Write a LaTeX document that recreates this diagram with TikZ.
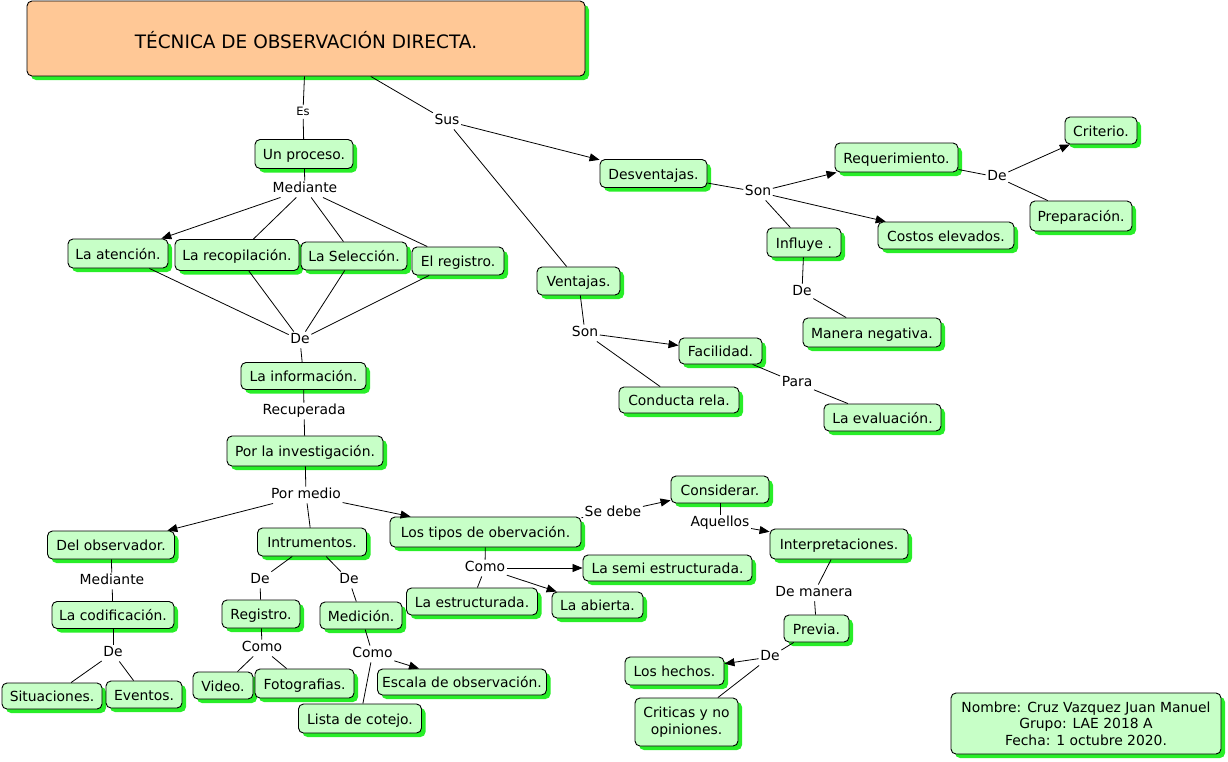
\documentclass[tikz,border=0pt]{standalone}
\usepackage{fontspec}
\setmainfont{DejaVu Sans}
\usetikzlibrary{arrows.meta,shadows}
\definecolor{boxfill}{RGB}{199,255,199}
\definecolor{shadowgreen}{RGB}{40,238,40}
\definecolor{titlefill}{RGB}{255,200,150}
\begin{document}
\begin{tikzpicture}[x=1pt,y=-1pt,
  base/.style={draw=black, line width=0.9pt, rounded corners=5pt, fill=boxfill,
    drop shadow={shadow xshift=4pt, shadow yshift=-4pt, fill=shadowgreen, opacity=1},
    inner sep=0pt, font=\fontsize{13.9}{16.5}\selectfont, align=center},
  box/.style={base, text height=12.5pt, text depth=1.5pt},
  sz/.style n args={2}{minimum width=#1pt, minimum height=#2pt},
  lab/.style={inner sep=1.5pt, font=\fontsize{13.9}{16.5}\selectfont, text height=10.5pt, text depth=3pt},
  conn/.style={draw=black, line width=0.8pt},
  arr/.style={conn, -{Triangle[length=10pt,width=8pt]}},
]
\useasboundingbox (0,0) rectangle (1228,761);

% ---------- boxes ----------
\node[box, fill=titlefill, sz={558}{75}, font=\fontsize{18.5}{20}\selectfont, text height=20pt, text depth=1pt] (title) at (306,38.5) {TÉCNICA DE OBSERVACIÓN DIRECTA.};
\node[box, sz={98}{29}] (proceso) at (304,154) {Un proceso.};
\node[box, sz={100}{29}] (aten) at (118,253.5) {La atención.};
\node[box, sz={124}{31}] (recop) at (237,255) {La recopilación.};
\node[box, sz={106}{28}] (selec) at (354,256) {La Selección.};
\node[box, sz={92}{28}] (elreg) at (458,261) {El registro.};
\node[box, sz={125}{27}] (info) at (303.5,376) {La información.};
\node[box, sz={156}{30}] (invest) at (305,451) {Por la investigación.};
\node[box, sz={127}{28}] (delobs) at (111,545) {Del observador.};
\node[box, sz={109}{28}] (instr) at (312,542) {Intrumentos.};
\node[box, sz={191}{30}] (tipos) at (485.5,532) {Los tipos de obervación.};
\node[box, sz={122}{27}] (codif) at (113,615) {La codificación.};
\node[box, sz={100}{26}] (situ) at (52,696) {Situaciones.};
\node[box, sz={76}{27}] (event) at (144,694.5) {Eventos.};
\node[box, sz={78}{28}] (regis) at (261,614) {Registro.};
\node[box, sz={82}{27}] (medic) at (361,615.5) {Medición.};
\node[box, sz={60}{27}] (video) at (223,685.5) {Video.};
\node[box, sz={99}{29}] (foto) at (304.5,683.5) {Fotografias.};
\node[box, sz={169}{26}] (escala) at (462,682) {Escala de observación.};
\node[box, sz={123}{29}] (lista) at (360,718.5) {Lista de cotejo.};
\node[box, sz={131}{27}] (estruct) at (472,601.5) {La estructurada.};
\node[box, sz={91}{26}] (abierta) at (597.5,605) {La abierta.};
\node[box, sz={169}{26}] (semi) at (667.5,568) {La semi estructurada.};
\node[box, sz={98}{27}] (consid) at (720,489.5) {Considerar.};
\node[box, sz={138}{30}] (interp) at (839,544) {Interpretaciones.};
\node[box, sz={65}{27}] (previa) at (816.5,628.5) {Previa.};
\node[box, sz={99}{28}] (hechos) at (674.5,671) {Los hechos.};
\node[base, sz={103}{48}] (criticas) at (686.5,722) {Criticas y no\\ opiniones.};
\node[base, sz={270}{61}] (datos) at (1086,723.5) {Nombre: Cruz Vazquez Juan Manuel\\Grupo: LAE 2018 A\\Fecha: 1 octubre 2020.};
\node[box, sz={107}{28}] (desv) at (653.5,173.5) {Desventajas.};
\node[box, sz={123}{29}] (requer) at (896.5,157.5) {Requerimiento.};
\node[box, sz={72}{27}] (criterio) at (1101,130.5) {Criterio.};
\node[box, sz={102}{30}] (prep) at (1081,216) {Preparación.};
\node[box, sz={136}{27}] (costos) at (946,235.5) {Costos elevados.};
\node[box, sz={74}{29}] (influye) at (804,242.5) {Influye .};
\node[box, sz={138}{29}] (manera) at (872,332.5) {Manera negativa.};
\node[box, sz={83}{28}] (vent) at (578.5,281) {Ventajas.};
\node[box, sz={83}{26}] (facil) at (720.5,351) {Facilidad.};
\node[box, sz={120}{26}] (conducta) at (679,400) {Conducta rela.};
\node[box, sz={117}{27}] (evalu) at (882.5,417.5) {La evaluación.};

% ---------- linking phrases ----------
\node[lab, font=\fontsize{11.5}{13}\selectfont, text height=8.5pt, text depth=2pt] (es) at (303,112) {Es};
\node[lab] (sus) at (447,121) {Sus};
\node[lab] (med1) at (305,189) {Mediante};
\node[lab] (de1) at (300,340) {De};
\node[lab] (recup) at (304,411) {Recuperada};
\node[lab] (pormedio) at (306,495) {Por medio};
\node[lab] (med2) at (112,581) {Mediante};
\node[lab] (de2) at (113,653) {De};
\node[lab] (deA) at (260,580) {De};
\node[lab] (deB) at (349,580) {De};
\node[lab] (como1) at (262,648) {Como};
\node[lab] (como2) at (372.5,654) {Como};
\node[lab] (como3) at (485,568) {Como};
\node[lab] (sedebe) at (613,513) {Se debe};
\node[lab] (aquellos) at (720,523) {Aquellos};
\node[lab] (demanera) at (814,593) {De manera};
\node[lab] (de3) at (770,657) {De};
\node[lab] (son1) at (758,192) {Son};
\node[lab] (de4) at (997,177) {De};
\node[lab] (de5) at (802,292) {De};
\node[lab] (son2) at (585,333) {Son};
\node[lab] (para) at (797,383) {Para};

% ---------- connectors ----------
\draw[conn] (title) -- (es);
\draw[conn] (es) -- (proceso);
\draw[conn] (title) -- (sus);
\draw[arr] (sus) -- (desv);
\draw[conn] (sus) -- (vent);
\draw[conn] (proceso) -- (med1);
\draw[arr] (med1) -- (aten);
\draw[conn] (med1) -- (recop);
\draw[conn] (med1) -- (selec);
\draw[conn] (med1) -- (elreg);
\draw[conn] (aten) -- (de1);
\draw[conn] (recop) -- (de1);
\draw[conn] (selec) -- (de1);
\draw[conn] (elreg) -- (de1);
\draw[conn] (de1) -- (info);
\draw[conn] (info) -- (recup);
\draw[conn] (recup) -- (invest);
\draw[conn] (invest) -- (pormedio);
\draw[arr] (pormedio) -- (delobs);
\draw[conn] (pormedio) -- (instr);
\draw[arr] (pormedio) -- (tipos);
\draw[conn] (delobs) -- (med2);
\draw[conn] (med2) -- (codif);
\draw[conn] (codif) -- (de2);
\draw[conn] (de2) -- (situ);
\draw[conn] (de2) -- (event);
\draw[conn] (instr) -- (deA);
\draw[conn] (deA) -- (regis);
\draw[conn] (instr) -- (deB);
\draw[conn] (deB) -- (medic);
\draw[conn] (regis) -- (como1);
\draw[conn] (como1) -- (video);
\draw[conn] (como1) -- (foto);
\draw[conn] (medic) -- (como2);
\draw[arr] (como2) -- (escala);
\draw[conn] (como2) -- (lista);
\draw[conn] (tipos) -- (como3);
\draw[arr] (como3) -- (semi);
\draw[arr] (como3) -- (abierta);
\draw[conn] (como3) -- (estruct);
\draw[conn] (tipos) -- (sedebe);
\draw[arr] (sedebe) -- (consid);
\draw[conn] (consid) -- (aquellos);
\draw[arr] (aquellos) -- (interp);
\draw[conn] (interp) -- (demanera);
\draw[conn] (demanera) -- (previa);
\draw[conn] (previa) -- (de3);
\draw[arr] (de3) -- (hechos);
\draw[conn] (de3) -- (criticas);
\draw[conn] (desv) -- (son1);
\draw[arr] (son1) -- (requer);
\draw[arr] (son1) -- (costos);
\draw[conn] (son1) -- (influye);
\draw[conn] (requer) -- (de4);
\draw[arr] (de4) -- (criterio);
\draw[conn] (de4) -- (prep);
\draw[conn] (influye) -- (de5);
\draw[conn] (de5) -- (manera);
\draw[conn] (vent) -- (son2);
\draw[arr] (son2) -- (facil);
\draw[conn] (son2) -- (conducta);
\draw[conn] (facil) -- (para);
\draw[conn] (para) -- (evalu);
\end{tikzpicture}
\end{document}
